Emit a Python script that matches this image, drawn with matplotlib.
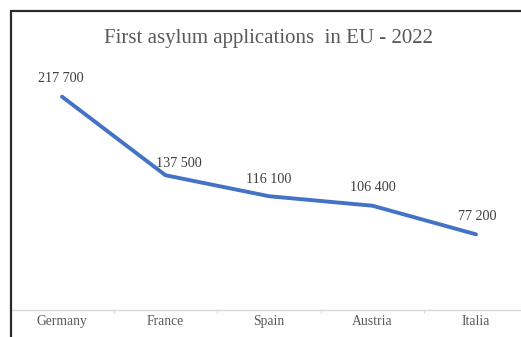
import matplotlib
matplotlib.use("Agg")
import matplotlib.pyplot as plt
from matplotlib.patches import Rectangle

categories = ["Germany", "France", "Spain", "Austria", "Italia"]
values = [217700, 137500, 116100, 106400, 77200]
labels = ["217 700", "137 500", "116 100", "106 400", "77 200"]
title = "First asylum applications  in EU - 2022"

# label offsets in pixels (style, not data)
label_offsets = [(-1, 18), (13.5, 12), (0, 17), (0, 18), (1, 17.5)]

W, H = 521, 337
dpi = 100
fig = plt.figure(figsize=(W / dpi, H / dpi), dpi=dpi)
fig.patch.set_facecolor("white")

serif = ["Liberation Serif", "DejaVu Serif"]
txt_color = "#595959"

left_px, right_px = 10.25, 527.75
bottom_px, top_px = 310, 65
ax = fig.add_axes([left_px / W, (H - bottom_px) / H,
                   (right_px - left_px) / W, (bottom_px - top_px) / H])
ax.set_facecolor("none")

x = list(range(len(categories)))
ax.plot(x, values, color="#4472C4", lw=2.8, solid_capstyle="round",
        solid_joinstyle="round", zorder=3)

for xi, v, lab, (dx, dy) in zip(x, values, labels, label_offsets):
    ax.annotate(lab, (xi, v), xytext=(dx * 72 / dpi, dy * 72 / dpi),
                textcoords="offset points", ha="center", va="center",
                fontsize=10.2, color="#404040", family=serif)

ax.set_xlim(-0.5, len(categories) - 0.5)
ax.set_ylim(0, 250000)
ax.set_yticks([])
ax.set_xticks(x)
ax.set_xticklabels(categories, family=serif, fontsize=9.8, color=txt_color)
ax.set_xticks([i + 0.5 for i in range(-1, len(categories))], minor=True)
ax.tick_params(axis="x", which="major", length=0, pad=3.5)
ax.tick_params(axis="x", which="minor", length=2.5, width=0.8, color="#d9d9d9")
for s in ["top", "right", "left"]:
    ax.spines[s].set_visible(False)
ax.spines["bottom"].set_color("#d9d9d9")
ax.spines["bottom"].set_linewidth(1.0)

fig.text((left_px + right_px) / 2 / W, 1 - 43.5 / H, title, ha="center",
         va="baseline", fontsize=15, color=txt_color, family=serif)

# outer chart border (left and top visible)
bx, by = 11 / W, 1 - 11 / H
fig.patches.append(Rectangle((bx, -0.2), 1.3, by + 0.2, transform=fig.transFigure,
                             fill=False, edgecolor="#2b2b2b", lw=1.6, clip_on=False))

fig.savefig("out.png", dpi=dpi)
